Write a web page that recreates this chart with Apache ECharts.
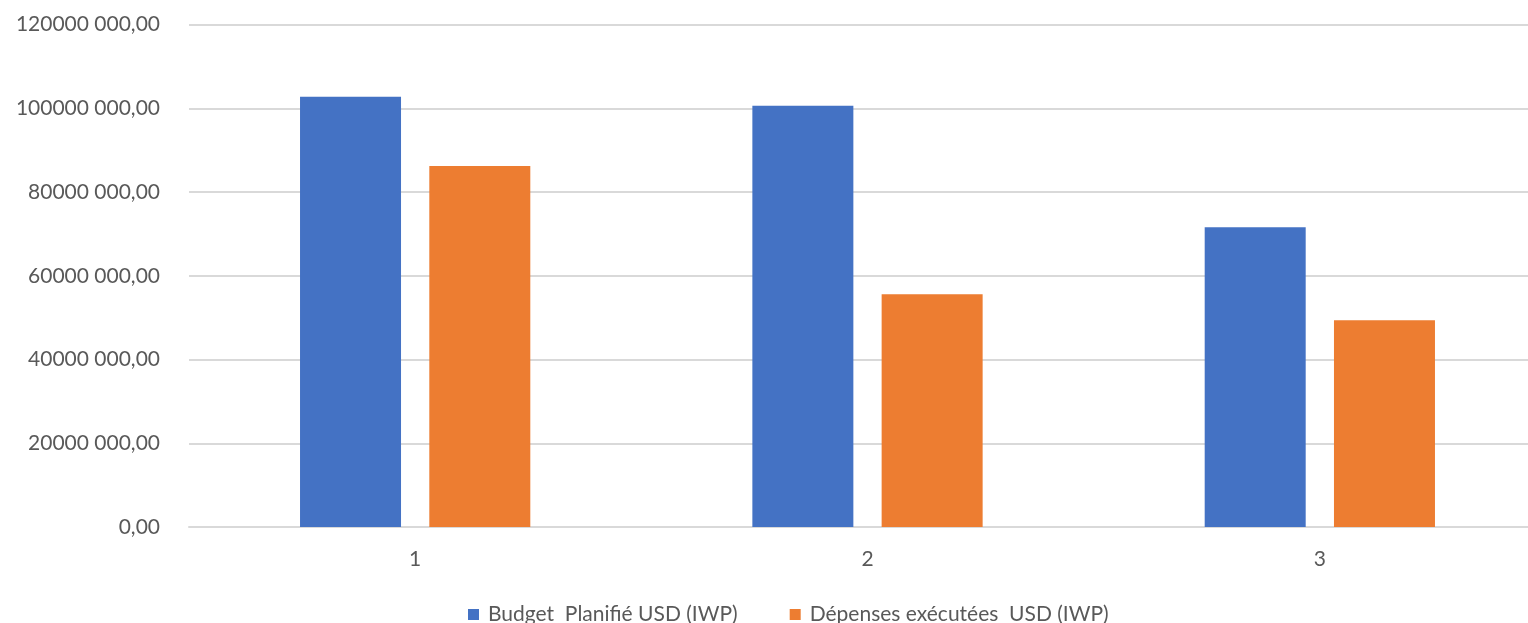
<!DOCTYPE html>
<html>
<head>
<meta charset="utf-8">
<script src="https://cdn.jsdelivr.net/npm/echarts@6/dist/echarts.min.js"></script>
<style>
html, body { margin: 0; padding: 0; background: #fff; overflow: hidden; }
#chart { width: 1546px; height: 623px; }
</style>
</head>
<body>
<div id="chart"></div>
<script>
// données
const categories = ["1", "2", "3"];
const budgetPlanifie = [102760000, 100600000, 71600000];
const depensesExecutees = [86200000, 55600000, 49400000];
const yTicks = [0, 20000000, 40000000, 60000000, 80000000, 100000000, 120000000];
const yLabels = ["0,00", "20000 000,00", "40000 000,00", "60000 000,00", "80000 000,00", "100000 000,00", "120000 000,00"];

// le graphique d'origine est coupé à droite : la zone est plus large que la fenêtre
const chart = echarts.init(document.getElementById("chart"));
const font = "Lato, 'Open Sans', sans-serif";

chart.setOption({
  animation: false,
  color: ["#4472C4", "#ED7D31"],
  grid: {
    left: 189,
    right: 0,
    top: 24.5,
    bottom: 96,
  },
  legend: {
    top: 599,
    left: 463,
    icon: "rect",
    itemWidth: 11,
    itemHeight: 11,
    itemGap: 52,
    textStyle: { fontFamily: font, fontSize: 21, color: "#595959", padding: [0, 0, 0, 4] },
  },
  xAxis: {
    type: "category",
    data: categories,
    axisTick: { show: false },
    axisLine: { lineStyle: { color: "#d9d9d9", width: 2 } },
    axisLabel: { fontFamily: font, fontSize: 21, color: "#595959", margin: 22 },
  },
  yAxis: {
    type: "value",
    min: 0,
    max: 120000000,
    interval: 20000000,
    axisLine: { show: false },
    axisTick: { show: false },
    splitLine: { lineStyle: { color: "#d9d9d9", width: 2 } },
    axisLabel: {
      fontFamily: font,
      fontSize: 21,
      color: "#595959",
      margin: 29,
      formatter: (v) => yLabels[yTicks.indexOf(v)],
    },
  },
  series: [
    {
      name: "Budget  Planifié USD (IWP)",
      type: "bar",
      data: budgetPlanifie,
      barWidth: 101,
      barGap: "28%",
    },
    {
      name: "Dépenses exécutées  USD (IWP)",
      type: "bar",
      data: depensesExecutees,
      barWidth: 101,
    },
  ],
});
</script>
</body>
</html>
